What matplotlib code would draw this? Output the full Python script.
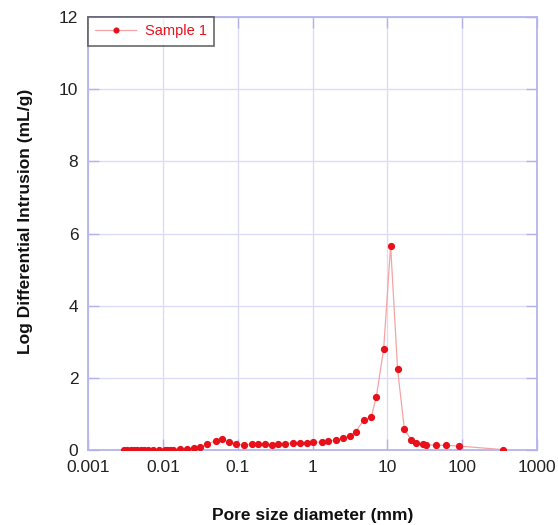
import matplotlib
matplotlib.use("Agg")
import matplotlib.pyplot as plt
from matplotlib.ticker import FixedLocator, NullLocator

plt.rcParams['font.family'] = ['Liberation Sans', 'DejaVu Sans']

# Pore diameter (mm) and log differential intrusion (mL/g)
diameter = [0.0030, 0.00334, 0.00371, 0.0041, 0.00454, 0.00504, 0.00558, 0.00637,
            0.00743, 0.00893, 0.0106, 0.0114, 0.0124, 0.0137, 0.0172, 0.0211,
            0.0259, 0.0318, 0.039, 0.0509, 0.0625, 0.0766, 0.0962, 0.121,
            0.154, 0.188, 0.231, 0.284, 0.348, 0.427, 0.551, 0.677, 0.832,
            1.02, 1.32, 1.61, 2.09, 2.56, 3.14, 3.78, 4.83, 6.12, 7.13, 8.93,
            11.07, 13.7, 16.9, 20.9, 23.8, 29.8, 32.4, 44.1, 59.9, 90.1, 355]
intrusion = [0.0, 0.0, 0.0, 0.0, 0.0, 0.0, 0.0, 0.0,
             0.0, 0.0, 0.0, 0.0, 0.0, 0.01, 0.02, 0.035,
             0.05, 0.075, 0.16, 0.26, 0.305, 0.21, 0.155, 0.14,
             0.155, 0.157, 0.166, 0.14, 0.175, 0.18, 0.185, 0.194, 0.203,
             0.213, 0.22, 0.25, 0.277, 0.323, 0.388, 0.508, 0.83, 0.92, 1.48, 2.80,
             5.66, 2.24, 0.57, 0.28, 0.20, 0.166, 0.148, 0.129, 0.129, 0.11, 0.01]

x_ticks = [0.001, 0.01, 0.1, 1, 10, 100, 1000]
x_tick_labels = ['0.001', '0.01', '0.1', '1', '10', '100', '1000']
y_ticks = [0, 2, 4, 6, 8, 10, 12]

spine_col = '#b4b4ec'
grid_col = '#dcdcf8'

fig = plt.figure(figsize=(5.58, 5.25), dpi=100)
ax = fig.add_axes([88/558, 1 - 450/525, (537-88)/558, (450-17)/525])

ax.plot(diameter, intrusion, color='#f4a4a4', lw=0.9, marker='o', ms=4.2,
        mfc='#e8101a', mec='#e8101a', label='Sample 1', zorder=3)

ax.set_xscale('log')
ax.set_xlim(0.001, 1000)
ax.set_ylim(0, 12)
ax.xaxis.set_major_locator(FixedLocator(x_ticks))
ax.set_xticklabels(x_tick_labels)
ax.xaxis.set_minor_locator(NullLocator())
ax.set_yticks(y_ticks)

ax.grid(True, color=grid_col, lw=1.0)
ax.set_axisbelow(True)
for s in ax.spines.values():
    s.set_color(spine_col)
    s.set_linewidth(1.3)
ax.tick_params(direction='in', length=8, width=1.0, color=spine_col,
               top=True, right=True, labelsize=12.5, labelcolor='#222222')
ax.tick_params(axis='x', pad=7)
ax.tick_params(axis='y', pad=7)

ax.set_xlabel('Pore size diameter (mm)', fontsize=12.5, fontweight='bold',
              labelpad=24, color='#111111')
ax.set_ylabel('Log Differential Intrusion (mL/g)', fontsize=12.5, fontweight='bold',
              color='#111111')
ax.yaxis.set_label_coords((33 - 88) / 449, 0.527)

leg = ax.legend(loc='upper left', frameon=True, fancybox=False, fontsize=10.5,
                borderaxespad=0, handlelength=2.8, borderpad=0.5, markerscale=0.8,
                handletextpad=0.6)
leg.get_frame().set_edgecolor('#444444')
leg.get_frame().set_linewidth(1.2)
for t in leg.get_texts():
    t.set_color('#e8101a')

fig.savefig('out.png', dpi=100)
